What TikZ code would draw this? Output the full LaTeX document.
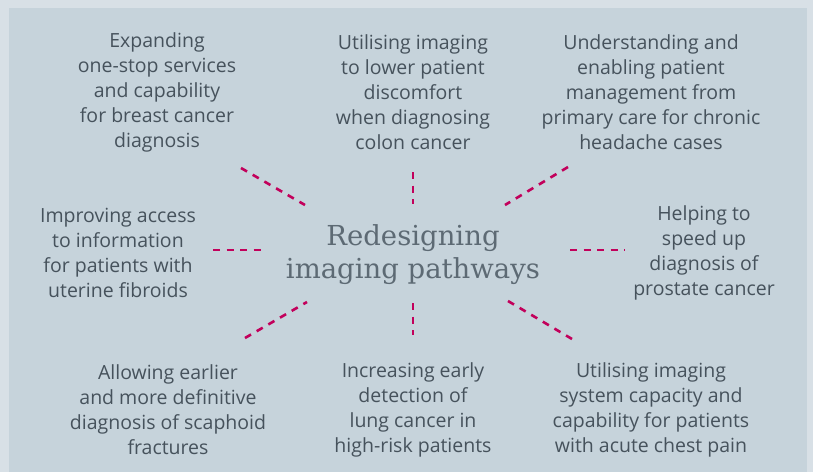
\documentclass[tikz,border=0pt]{standalone}
\usepackage{fontspec}
\setmainfont{Open Sans}
\newfontfamily\hubfont{DejaVu Serif}
\usetikzlibrary{positioning}

\definecolor{pagebg}{HTML}{D8E0E6}
\definecolor{panelbg}{HTML}{C6D3DB}
\definecolor{topictext}{HTML}{46525C}
\definecolor{hubtext}{HTML}{5D6A74}
\definecolor{linkred}{HTML}{C2005B}

\begin{document}
\begin{tikzpicture}[x=1pt, y=-1pt,
    topic/.style={align=center, text=topictext, font=\fontsize{19.5}{25}\selectfont},
    link/.style={draw=linkred, line width=2.6pt, dash pattern=on 7pt off 6.5pt}]

    \useasboundingbox (0,0) rectangle (813,472);
    \fill[pagebg] (0,0) rectangle (813,472);
    \fill[panelbg] (9,8) rectangle (807,472);

    \node[align=center, text=hubtext, font=\hubfont\fontsize{27.5}{33}\selectfont] (hub) at (413,255)
        {Redesigning\\imaging pathways};

    \node[topic] (breast) at (157,92)
        {Expanding\\one-stop services\\and capability\\for breast cancer\\diagnosis};
    \node[topic] (colon) at (413,92)
        {Utilising imaging\\to lower patient\\discomfort\\when diagnosing\\colon cancer};
    \node[topic] (headache) at (651,92)
        {Understanding and\\enabling patient\\management from\\primary care for chronic\\headache cases};
    \node[topic] (fibroids) at (118,253)
        {Improving access\\to information\\for patients with\\uterine fibroids};
    \node[topic] (prostate) at (704,253)
        {Helping to\\speed up\\diagnosis of\\prostate cancer};
    \node[topic] (scaphoid) at (168,410)
        {Allowing earlier\\and more definitive\\diagnosis of scaphoid\\fractures};
    \node[topic] (lung) at (413,410)
        {Increasing early\\detection of\\lung cancer in\\high-risk patients};
    \node[topic] (chest) at (651,410)
        {Utilising imaging\\system capacity and\\capability for patients\\with acute chest pain};

    % dash ends
    \coordinate (breast_a) at (241,168);   \coordinate (breast_b) at (305,205);
    \coordinate (colon_a) at (413,172);    \coordinate (colon_b) at (413,204);
    \coordinate (headache_a) at (568,167); \coordinate (headache_b) at (505,205);
    \coordinate (fibroids_a) at (213,250); \coordinate (fibroids_b) at (266,250);
    \coordinate (prostate_a) at (570,250); \coordinate (prostate_b) at (625,250);
    \coordinate (scaphoid_a) at (245,338); \coordinate (scaphoid_b) at (307,302);
    \coordinate (lung_a) at (413,303);     \coordinate (lung_b) at (413,335);
    \coordinate (chest_a) at (508,301);    \coordinate (chest_b) at (572,339);

    \foreach \t in {breast,colon,headache,fibroids,prostate,scaphoid,lung,chest}
        \draw[link] (\t_a) -- (\t_b);

\end{tikzpicture}
\end{document}
